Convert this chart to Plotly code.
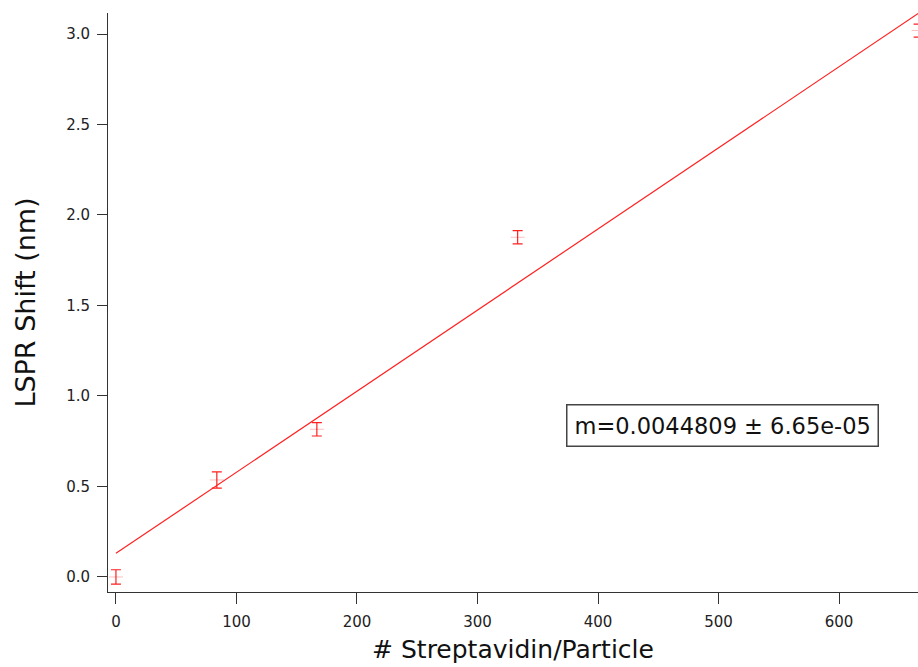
import plotly.graph_objects as go

# Data
n_strep = [0, 83.7, 166.7, 333.3, 666.0]
lspr_shift = [0.0, 0.536, 0.816, 1.877, 3.019]
lspr_err = [0.040, 0.045, 0.037, 0.037, 0.036]

slope = 0.0044809
slope_err = 6.65e-05
intercept = 0.1305
fit_x = [0, 666.0]
fit_y = [intercept + slope * v for v in fit_x]

x_ticks = [0, 100, 200, 300, 400, 500, 600]
y_ticks = [0.0, 0.5, 1.0, 1.5, 2.0, 2.5, 3.0]
y_ticklabels = ["0.0", "0.5", "1.0", "1.5", "2.0", "2.5", "3.0"]

fig = go.Figure()
fig.add_trace(go.Scatter(
    x=fit_x, y=fit_y, mode="lines",
    line=dict(color="#ff2020", width=1.2),
    showlegend=False, hoverinfo="skip",
))
fig.add_trace(go.Scatter(
    x=n_strep, y=lspr_shift, mode="markers",
    marker=dict(symbol="line-ew", size=10, color="rgba(255,0,0,0.25)",
                line=dict(color="rgba(255,0,0,0.25)", width=1)),
    error_y=dict(type="data", array=lspr_err, visible=True,
                 color="#ff2020", thickness=1.2, width=5),
    showlegend=False,
))

font_family = "DejaVu Sans, Lucida Grande, sans-serif"

fig.update_layout(
    width=918, height=667,
    margin=dict(l=108, r=0, t=13, b=75),
    paper_bgcolor="white", plot_bgcolor="white",
    font=dict(family=font_family, color="#222222"),
    xaxis=dict(
        range=[-6.6, 665.5],
        tickvals=x_ticks,
        ticks="outside", ticklen=11, tickwidth=1, tickcolor="#333",
        ticklabelstandoff=5,
        showline=True, linecolor="#333", linewidth=1,
        showgrid=False, zeroline=False,
        tickfont=dict(size=15, family=font_family, color="#222"),
        title=dict(text="# Streptavidin/Particle",
                   font=dict(size=25, family=font_family, color="#111"),
                   standoff=10),
    ),
    yaxis=dict(
        range=[-0.083, 3.116],
        tickvals=y_ticks, ticktext=y_ticklabels,
        ticks="outside", ticklen=10, tickwidth=1, tickcolor="#333",
        ticklabelstandoff=4,
        showline=True, linecolor="#333", linewidth=1,
        showgrid=False, zeroline=False,
        tickfont=dict(size=15, family=font_family, color="#222"),
        title=dict(text="LSPR Shift (nm)",
                   font=dict(size=27, family=font_family, color="#111"),
                   standoff=22),
    ),
    annotations=[dict(
        xref="paper", yref="paper",
        x=(566 - 108) / 810, y=(592 - 447) / 579,
        xanchor="left", yanchor="bottom",
        text=f"m={slope} ± {slope_err:.2e}",
        showarrow=False,
        font=dict(size=22.5, family=font_family, color="#111"),
        bordercolor="#444", borderwidth=1.5, borderpad=7,
        bgcolor="white",
    )],
)

fig.write_html("out.html")
